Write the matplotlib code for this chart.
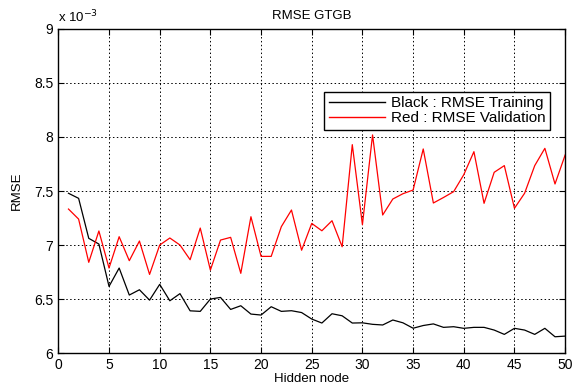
import matplotlib
matplotlib.use("Agg")
import matplotlib.pyplot as plt
import numpy as np
from matplotlib.ticker import FuncFormatter

plt.rcParams['font.family'] = ['Liberation Sans', 'DejaVu Sans']

# hidden node counts and RMSE values (in units of 1e-3)
hidden_nodes = list(range(1, 51))
rmse_training = [7.479, 7.432, 7.062, 7.009, 6.617, 6.787, 6.537, 6.586, 6.490, 6.636,
                 6.484, 6.550, 6.391, 6.386, 6.500, 6.515, 6.404, 6.438, 6.361, 6.352,
                 6.429, 6.386, 6.392, 6.375, 6.315, 6.278, 6.364, 6.345, 6.278, 6.280,
                 6.266, 6.260, 6.306, 6.280, 6.230, 6.255, 6.270, 6.238, 6.244, 6.229,
                 6.238, 6.238, 6.213, 6.173, 6.229, 6.213, 6.173, 6.229, 6.151, 6.157]
rmse_validation = [7.333, 7.240, 6.840, 7.130, 6.787, 7.077, 6.855, 7.037, 6.728, 7.000,
                   7.065, 7.000, 6.864, 7.157, 6.768, 7.046, 7.071, 6.738, 7.262, 6.895,
                   6.895, 7.170, 7.324, 6.952, 7.200, 7.132, 7.225, 6.984, 7.929, 7.188,
                   8.019, 7.278, 7.426, 7.475, 7.509, 7.889, 7.389, 7.440, 7.494, 7.651,
                   7.864, 7.386, 7.673, 7.735, 7.340, 7.479, 7.735, 7.895, 7.565, 7.833]
scale = 1e-3

fig = plt.figure(figsize=(5.72, 3.91), dpi=100, facecolor='white')
ax = fig.add_axes([0.102, 0.097, 0.886, 0.829])

x = np.array(hidden_nodes)
ax.plot(x, np.array(rmse_training) * scale, color='black', lw=0.9,
        label='Black : RMSE Training')
ax.plot(x, np.array(rmse_validation) * scale, color='red', lw=0.9,
        label='Red : RMSE Validation')

ax.set_xlim(0, 50)
ax.set_ylim(6e-3, 9e-3)
ax.set_xticks(np.arange(0, 51, 5))
ax.set_yticks(np.arange(6, 9.01, 0.5) * scale)
ax.yaxis.set_major_formatter(FuncFormatter(lambda v, p: '%g' % round(v / scale, 2)))
ax.tick_params(direction='in', top=True, right=True, labelsize=10, length=4)
ax.grid(True, color='black', linestyle=(0, (1.5, 2.5)), linewidth=0.7)
for s in ax.spines.values():
    s.set_linewidth(1.0)

ax.set_title('RMSE GTGB', fontsize=9.5, pad=7)
ax.set_xlabel('Hidden node', fontsize=9.5, labelpad=1)
ax.set_ylabel('RMSE', fontsize=9.5, labelpad=8)
ax.text(0.0, 1.012, r'x 10$^{-3}$', transform=ax.transAxes, fontsize=9.5,
        ha='left', va='bottom')

leg = ax.legend(loc='upper right', bbox_to_anchor=(0.970, 0.806), fontsize=11,
                fancybox=False, framealpha=1, edgecolor='black',
                handlelength=3.7, handletextpad=0.35, borderpad=0.3,
                labelspacing=0.05, borderaxespad=0)
leg.get_frame().set_linewidth(1.0)
for h in leg.get_lines():
    h.set_linewidth(1.0)

fig.savefig('out.png', dpi=100)
